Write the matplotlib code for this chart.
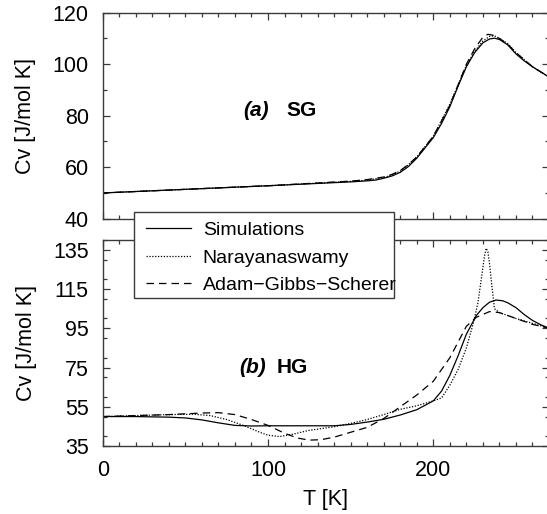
import matplotlib
matplotlib.use("Agg")
import matplotlib.pyplot as plt
from matplotlib.ticker import MultipleLocator
from matplotlib.lines import Line2D
from matplotlib.patches import Rectangle

plt.rcParams['font.family'] = ['Liberation Sans', 'DejaVu Sans']

# (a) SG panel
sg_T_sim = [0, 50, 100, 150, 160, 165, 170, 175, 180, 185, 190, 200, 205, 210, 215, 220,
            225, 230, 234, 237, 240, 245, 250, 255, 260, 265, 270]
sg_sim = [50.0, 51.4, 52.8, 54.3, 54.7, 55.0, 55.7, 56.6, 58.0, 60.3, 63.5, 71.5, 77.0,
          83.5, 91.5, 99.0, 104.5, 108.3, 109.8, 110.1, 109.6, 107.5, 104.0, 101.3, 99.0,
          97.0, 95.0]
sg_T_nar = [0, 50, 100, 150, 160, 170, 175, 180, 185, 190, 200, 210, 220, 225, 230, 234,
            237, 240, 245, 250, 260, 270]
sg_nar = [50.0, 51.4, 52.8, 54.5, 55.0, 56.0, 57.0, 58.5, 61.0, 64.0, 72.0, 84.5, 99.5,
          105.0, 109.0, 110.8, 111.0, 110.0, 108.0, 104.5, 99.0, 95.0]
sg_T_ags = [0, 50, 100, 150, 160, 170, 175, 180, 185, 190, 200, 210, 220, 225, 230, 233,
            236, 240, 245, 250, 260, 270]
sg_ags = [50.0, 51.4, 52.8, 54.6, 55.2, 56.2, 57.2, 58.7, 61.1, 64.0, 72.0, 84.0, 100.0,
          106.0, 110.5, 111.6, 111.3, 110.0, 107.8, 104.5, 99.0, 95.0]

# (b) HG panel
hg_T_sim = [0, 20, 40, 50, 60, 70, 80, 90, 100, 120, 140, 150, 160, 170, 180, 190, 200,
            205, 210, 215, 220, 226, 230, 234, 238, 242, 245, 250, 255, 260, 265, 270]
hg_sim = [50.0, 50.0, 49.7, 49.3, 48.3, 46.8, 45.5, 45.2, 45.3, 45.3, 45.3, 46.0, 47.2,
          48.6, 50.8, 53.5, 58.0, 63.0, 71.0, 81.0, 92.0, 101.5, 105.5, 108.3, 109.4, 109.0,
          108.0, 105.5, 102.0, 99.0, 96.8, 95.0]
hg_T_nar = [0, 20, 40, 55, 65, 75, 85, 95, 100, 107, 115, 125, 140, 150, 160, 170, 180,
            190, 200, 205, 210, 215, 220, 224, 227, 229, 231, 232, 233, 234, 235.5, 237,
            240, 250, 260, 270]
hg_nar = [50.0, 50.5, 51.0, 51.2, 50.5, 48.5, 45.5, 42.0, 40.5, 39.8, 41.0, 43.0, 44.8,
          46.5, 48.5, 51.0, 53.7, 55.5, 58.0, 59.5, 66.0, 74.0, 85.0, 97.0, 108.0, 120.0,
          132.0, 135.8, 134.0, 128.0, 116.0, 105.0, 103.0, 100.0, 97.5, 95.0]
hg_T_ags = [0, 20, 40, 60, 70, 80, 90, 100, 110, 118, 125, 132, 140, 150, 160, 170, 180,
            190, 200, 210, 215, 220, 226, 234, 240, 250, 260, 270]
hg_ags = [50.0, 50.5, 51.0, 51.8, 52.0, 51.0, 48.5, 45.5, 41.5, 39.0, 38.0, 38.2, 39.5,
          42.0, 44.5, 49.0, 55.0, 61.0, 68.0, 80.0, 88.0, 96.0, 100.6, 103.5, 103.0, 100.0,
          97.0, 95.0]

legend_labels = ['Simulations', 'Narayanaswamy', 'Adam\u2212Gibbs\u2212Scherer']

spine_col = '#3a3a3a'
fs = 15.5
lw = 0.9
styles = [dict(color='black', lw=lw, ls='-'),
          dict(color='black', lw=lw, ls=(0, (1, 1.3))),
          dict(color='black', lw=lw, ls=(0, (6, 4)))]

fig = plt.figure(figsize=(5.47, 5.14), dpi=100)
ax1 = fig.add_axes([0.1878, 0.5745, 0.8159, 0.4008])
ax2 = fig.add_axes([0.1878, 0.1323, 0.8159, 0.4008])

ax1.plot(sg_T_sim, sg_sim, **styles[0])
ax1.plot(sg_T_nar, sg_nar, **styles[1])
ax1.plot(sg_T_ags, sg_ags, **styles[2])

ax2.plot(hg_T_sim, hg_sim, **styles[0])
ax2.plot(hg_T_nar, hg_nar, **styles[1])
ax2.plot(hg_T_ags, hg_ags, **styles[2])

ax1.set_ylim(40, 120)
ax1.yaxis.set_major_locator(MultipleLocator(20))
ax1.yaxis.set_minor_locator(MultipleLocator(10))
ax2.set_ylim(35, 140)
ax2.set_yticks([35, 55, 75, 95, 115, 135])
ax2.yaxis.set_minor_locator(MultipleLocator(10))

for ax in (ax1, ax2):
    ax.set_xlim(0, 270)
    ax.xaxis.set_major_locator(MultipleLocator(100))
    ax.xaxis.set_minor_locator(MultipleLocator(10))
    ax.tick_params(which='both', direction='in', top=True, right=True,
                   color=spine_col, labelsize=fs, width=0.9)
    ax.tick_params(which='major', length=5, pad=10)
    ax.tick_params(which='minor', length=3)
    for s in ax.spines.values():
        s.set_color(spine_col)
        s.set_linewidth(1.0)
    ax.set_ylabel('Cv [J/mol K]', fontsize=fs, labelpad=12)

ax1.tick_params(labelbottom=False)
ax2.set_xlabel('T [K]', fontsize=fs, labelpad=6)

ax1.text(85, 82, '(a)', fontsize=15, fontweight='bold', fontstyle='italic', va='center')
ax1.text(111, 82, 'SG', fontsize=15, fontweight='bold', va='center')
ax2.text(82.5, 75, '(b)', fontsize=15, fontweight='bold', fontstyle='italic', va='center')
ax2.text(105.5, 75, 'HG', fontsize=15, fontweight='bold', va='center')

# legend box spanning both panels
box = Rectangle((134.3 / 547, 1 - 298 / 514), (394 - 134.3) / 547, 86 / 514,
                transform=fig.transFigure, facecolor='white', edgecolor=spine_col,
                lw=1.0, zorder=5)
fig.patches.append(box)
handles = [Line2D([], [], **st) for st in styles]
leg = fig.legend(handles, legend_labels, loc='upper left',
                 bbox_to_anchor=(134.3 / 547, 1 - 210 / 514), frameon=False,
                 fontsize=14, handlelength=2.32, handletextpad=0.6,
                 labelspacing=0.5, borderpad=0.6, borderaxespad=0)
leg.set_zorder(6)

fig.savefig('out.png', dpi=100)
